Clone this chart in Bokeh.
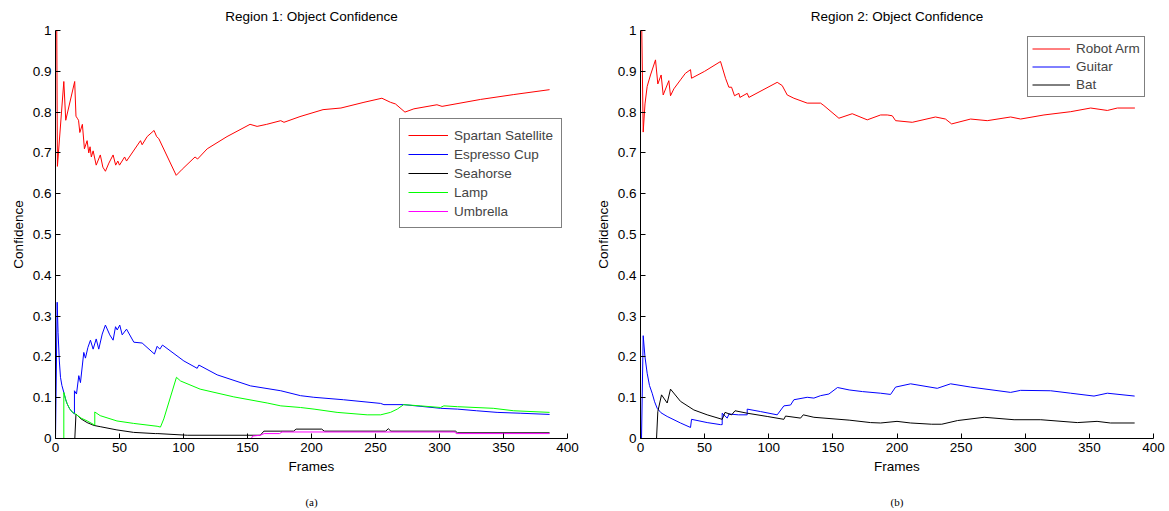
from bokeh.plotting import figure
from bokeh.layouts import row
from bokeh.models import Legend, LegendItem, LinearAxis, Range1d, FixedTicker, PrintfTickFormatter
from bokeh.embed import file_html
from bokeh.resources import INLINE

FONT = "Liberation Sans"
FS = "13.5px"

x_ticks = [0, 50, 100, 150, 200, 250, 300, 350, 400]
y_ticks = [0, 0.1, 0.2, 0.3, 0.4, 0.5, 0.6, 0.7, 0.8, 0.9, 1]

# ---------------- Region 1 ----------------
spartan_f = [0, 1, 1.5, 6.5, 8, 15, 16, 17, 18, 19, 21, 22.6, 24.7, 26, 27, 28, 29.4, 31.8, 35, 37, 39,
             41.7, 45, 47, 48.7, 50, 54, 55.5, 66.4, 67.7, 71.6, 77, 79, 80.7, 94.3, 99, 109, 111, 118.5,
             134, 152, 157.5, 165, 176, 178.5, 191, 209, 223, 241, 255, 261.7, 265.6, 273, 280, 298, 302,
             332, 358, 386]
spartan_v = [1.0, 1.0, 0.667, 0.875, 0.78, 0.875, 0.79, 0.785, 0.78, 0.75, 0.77, 0.71, 0.73, 0.70, 0.715,
             0.69, 0.705, 0.67, 0.695, 0.665, 0.655, 0.675, 0.695, 0.67, 0.68, 0.67, 0.69, 0.68, 0.73, 0.72,
             0.74, 0.755, 0.74, 0.735, 0.645, 0.66, 0.69, 0.685, 0.71, 0.74, 0.77, 0.765, 0.77, 0.779, 0.775,
             0.789, 0.806, 0.81, 0.824, 0.834, 0.824, 0.82, 0.80, 0.808, 0.818, 0.814, 0.831, 0.843, 0.855]

espresso_f = [0, 1.3, 2, 3, 3.9, 5, 6.5, 8, 9.1, 11, 13, 14.8, 14.8, 16.4, 18.2, 19.5, 22.1, 23.4, 25.3,
              27.3, 29.4, 31.8, 33.8, 36.5, 39, 42.4, 45, 46.9, 48.2, 50.2, 52.1, 55.5, 61.2, 67.7, 77.3,
              79.4, 81.5, 83.6, 100.3, 110.7, 112, 126.3, 152.3, 176, 191.4, 201.8, 225, 254, 256.6, 272,
              300.8, 314, 329, 345, 363, 386]
espresso_v = [0, 0.334, 0.26, 0.19, 0.15, 0.13, 0.113, 0.095, 0.085, 0.073, 0.065, 0.06, 0.117, 0.109,
              0.154, 0.137, 0.211, 0.197, 0.223, 0.241, 0.219, 0.244, 0.219, 0.256, 0.278, 0.254, 0.241,
              0.274, 0.266, 0.278, 0.254, 0.268, 0.236, 0.234, 0.207, 0.226, 0.219, 0.229, 0.190, 0.172,
              0.180, 0.156, 0.129, 0.117, 0.105, 0.101, 0.095, 0.086, 0.083, 0.083, 0.074, 0.072, 0.068,
              0.064, 0.062, 0.059]

seahorse_f = [0, 15.1, 16, 20, 24.7, 30, 34.9, 48, 61, 78, 80, 102.9, 160, 162.8, 176, 186, 188, 208, 210,
              258, 260, 262, 312.5, 314, 386]
seahorse_v = [0, 0, 0.060, 0.048, 0.039, 0.032, 0.029, 0.021, 0.015, 0.012, 0.012, 0.008, 0.008, 0.018,
              0.018, 0.018, 0.023, 0.023, 0.018, 0.018, 0.024, 0.018, 0.018, 0.014, 0.014]

lamp_f = [0, 6.5, 6.5, 8, 9.1, 11, 13, 15.6, 20, 24.8, 29.4, 30.7, 30.7, 34.9, 48, 61, 79.4, 82, 84.6,
          94.5, 97.7, 113, 139.3, 165.4, 176, 191.4, 202, 220, 243.5, 254, 261.7, 267, 272, 285, 300.8,
          303.4, 314, 342, 358, 386]
lamp_v = [0, 0, 0.113, 0.095, 0.085, 0.073, 0.065, 0.060, 0.05, 0.043, 0.035, 0.033, 0.065, 0.056, 0.043,
          0.037, 0.030, 0.028, 0.048, 0.150, 0.141, 0.121, 0.102, 0.087, 0.080, 0.076, 0.072, 0.064, 0.058,
          0.058, 0.064, 0.072, 0.083, 0.080, 0.076, 0.08, 0.078, 0.074, 0.068, 0.064]

umbrella_f = [0, 153, 154, 160, 163, 175, 177, 312, 313, 386]
umbrella_v = [0, 0, 0.006, 0.008, 0.012, 0.012, 0.016, 0.016, 0.012, 0.012]

# ---------------- Region 2 ----------------
robot_f = [0, 1, 2.1, 3.5, 5.2, 7.8, 11.7, 13.5, 16.1, 17.7, 22.1, 23.4, 26, 31.2, 35, 39, 39.8, 50, 62.4,
           66.3, 68.9, 71, 73.3, 76.7, 77.5, 83.2, 84.5, 106.6, 110.5, 114.4, 119.6, 130, 140.4, 143,
           154.7, 165.1, 176.8, 187.2, 192.4, 196.3, 198.9, 211.9, 230, 237.8, 242.6, 257.4, 270.4, 288.6,
           296.4, 314.6, 335.4, 351, 364, 371.8, 385.5]
robot_v = [1, 1, 0.751, 0.82, 0.863, 0.891, 0.928, 0.869, 0.891, 0.842, 0.877, 0.840, 0.857, 0.879, 0.895,
           0.904, 0.883, 0.900, 0.924, 0.883, 0.861, 0.861, 0.840, 0.846, 0.836, 0.846, 0.836, 0.873, 0.865,
           0.842, 0.834, 0.822, 0.822, 0.816, 0.785, 0.796, 0.781, 0.793, 0.793, 0.791, 0.779, 0.775, 0.788,
           0.783, 0.771, 0.783, 0.779, 0.788, 0.783, 0.793, 0.801, 0.810, 0.804, 0.810, 0.810]

guitar_f = [0, 0.8, 2.1, 3.5, 5.2, 7, 9.1, 11, 13, 16, 20.8, 31.2, 39, 39.8, 52, 62.4, 63.7, 63.7, 67.6,
            69, 76.4, 83.2, 83.2, 93.6, 106.6, 111.8, 117, 119.6, 130, 135.2, 140.4, 146.9, 153.6, 162.7,
            173.1, 187.2, 195, 198.9, 210.6, 231.4, 241.8, 257.4, 288.6, 296.4, 319.8, 335.4, 353.6, 364,
            385.3]
guitar_v = [0, 0, 0.252, 0.2, 0.160, 0.13, 0.111, 0.09, 0.074, 0.063, 0.054, 0.038, 0.027, 0.047, 0.039,
            0.034, 0.034, 0.062, 0.05, 0.06, 0.058, 0.058, 0.072, 0.066, 0.058, 0.080, 0.082, 0.095, 0.101,
            0.099, 0.105, 0.109, 0.125, 0.119, 0.115, 0.111, 0.108, 0.126, 0.134, 0.123, 0.134, 0.126,
            0.113, 0.118, 0.117, 0.111, 0.104, 0.111, 0.104]

bat_f = [0, 12.5, 13.5, 16.4, 20.8, 23.4, 31.2, 41.6, 52, 63.7, 65.9, 71.1, 73.7, 83.2, 98.8, 111.8, 113.1,
         124.8, 126.9, 135.2, 162.7, 179.4, 187.2, 200, 210.6, 227, 234.9, 247.2, 268, 291.3, 312.1, 340.6,
         356, 366.4, 385.3]
bat_v = [0, 0, 0.066, 0.107, 0.087, 0.121, 0.091, 0.070, 0.058, 0.047, 0.064, 0.058, 0.068, 0.062, 0.054,
         0.047, 0.055, 0.050, 0.058, 0.052, 0.045, 0.039, 0.038, 0.042, 0.038, 0.035, 0.035, 0.044, 0.052,
         0.046, 0.046, 0.039, 0.042, 0.038, 0.038]

region1 = [("Spartan Satellite", spartan_f, spartan_v, "#ff0000"),
           ("Espresso Cup", espresso_f, espresso_v, "#0000ff"),
           ("Seahorse", seahorse_f, seahorse_v, "#000000"),
           ("Lamp", lamp_f, lamp_v, "#00ff00"),
           ("Umbrella", umbrella_f, umbrella_v, "#ff00ff")]
region2 = [("Robot Arm", robot_f, robot_v, "#ff0000"),
           ("Guitar", guitar_f, guitar_v, "#0000ff"),
           ("Bat", bat_f, bat_v, "#000000")]


def panel(title, caption, series, width, left, right, leg_loc, gw, gh, pad):
    p = figure(width=width, height=511, x_range=Range1d(0, 400), y_range=Range1d(0, 1),
               output_backend="svg", toolbar_location=None,
               min_border_left=left, min_border_right=right, min_border_top=30, min_border_bottom=73)
    p.title.text = title
    p.title.align = "center"
    p.title.text_font = FONT
    p.title.text_font_size = FS
    p.title.text_font_style = "normal"
    p.title.text_color = "#000000"
    p.title.standoff = 13
    p.outline_line_color = None
    p.grid.visible = False
    p.background_fill_color = "white"
    p.border_fill_color = "white"

    for ax in (p.xaxis[0], p.yaxis[0]):
        ax.axis_line_color = "#000000"
        ax.major_tick_line_color = "#000000"
        ax.major_tick_in = 5
        ax.major_tick_out = 0
        ax.minor_tick_in = 0
        ax.minor_tick_out = 0
        ax.major_label_text_font = FONT
        ax.major_label_text_font_size = FS
        ax.major_label_text_color = "#000000"
        ax.major_label_standoff = 4
        ax.axis_label_text_font = FONT
        ax.axis_label_text_font_size = FS
        ax.axis_label_text_font_style = "normal"
        ax.axis_label_text_color = "#000000"
    p.xaxis.ticker = FixedTicker(ticks=x_ticks)
    p.yaxis.ticker = FixedTicker(ticks=y_ticks)
    p.yaxis.formatter = PrintfTickFormatter(format="%g")
    p.xaxis.axis_label = "Frames"
    p.yaxis.axis_label = "Confidence"
    p.xaxis.axis_label_standoff = 4
    p.yaxis.axis_label_standoff = 4

    # caption below the axis, as a tick-less axis label
    cap = LinearAxis(ticker=FixedTicker(ticks=[]), axis_label=caption,
                     axis_line_color=None, major_tick_line_color=None, minor_tick_line_color=None,
                     major_tick_in=0, major_tick_out=0, minor_tick_in=0, minor_tick_out=0,
                     major_label_standoff=0, axis_label_standoff=19,
                     axis_label_text_font="Liberation Serif", axis_label_text_font_size="11px",
                     axis_label_text_font_style="normal", axis_label_text_color="#000000")
    p.add_layout(cap, "below")

    items = []
    for name, f, v, c in series:
        r = p.line(f, v, line_color=c, line_width=1)
        items.append(LegendItem(label=name, renderers=[r]))
    leg = Legend(items=items, location=leg_loc)
    leg.border_line_color = "#000000"
    leg.border_line_width = 1
    leg.background_fill_color = "white"
    leg.background_fill_alpha = 1
    leg.label_text_font = FONT
    leg.label_text_font_size = FS
    leg.glyph_width = gw
    leg.glyph_height = gh
    leg.label_height = gh
    leg.spacing = 3
    leg.padding = pad
    leg.label_standoff = 6
    leg.margin = 0
    p.add_layout(leg)
    return p


p1 = panel("Region 1: Object Confidence", "(a)", region1, 588, 55, 21, (344, 210), 40, 16, 8)
p2 = panel("Region 2: Object Confidence", "(b)", region2, 581, 52, 16, (387, 341), 38, 15, 4)

layout = row(p1, p2)
open("out.html", "w").write(file_html(layout, INLINE))
